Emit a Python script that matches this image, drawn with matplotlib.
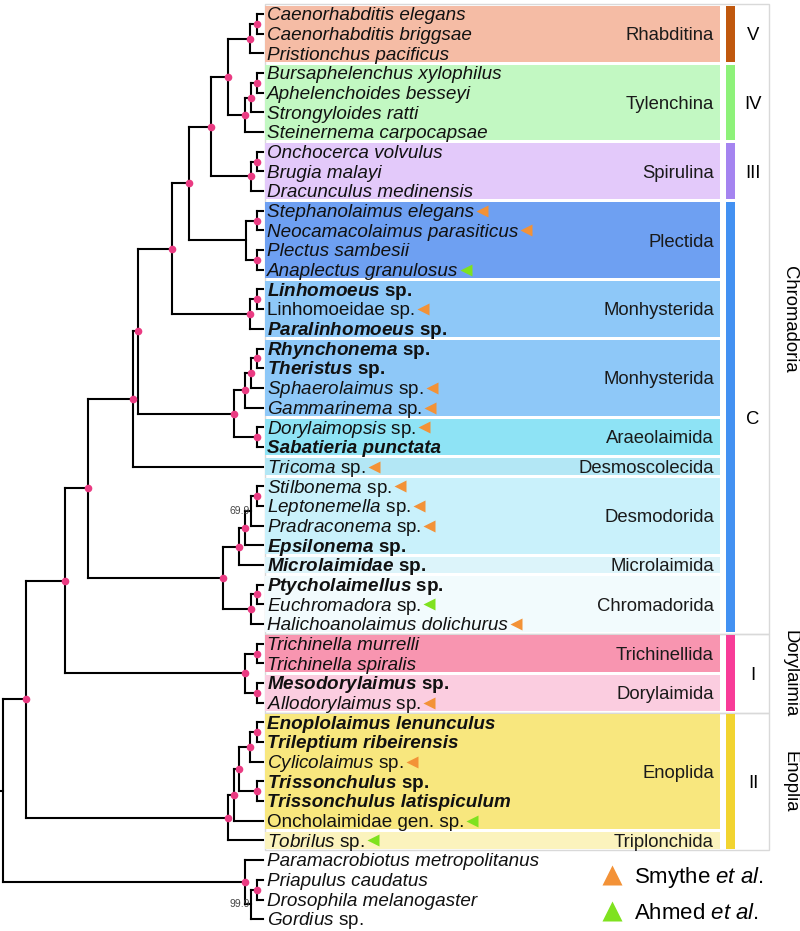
import re
import matplotlib
matplotlib.use("Agg")
import matplotlib.pyplot as plt
from matplotlib.patches import Rectangle
from matplotlib.lines import Line2D

plt.rcParams['font.family'] = 'Liberation Sans'
plt.rcParams['mathtext.fontset'] = 'custom'
plt.rcParams['mathtext.rm'] = 'Liberation Sans'
plt.rcParams['mathtext.it'] = 'Liberation Sans:italic'
plt.rcParams['mathtext.bf'] = 'Liberation Sans:bold'
plt.rcParams['mathtext.bfit'] = 'Liberation Sans:italic:bold'

# topology + branch lengths in newick pieces, tips numbered in plotting order
# '*' = node with support dot, numbers = printed support value
rhabditina = "((0:6,1:6)*:7,2:13)*:22"
tylenchina = "(((3:6,4:6)*:6,5:12)*:6,6:18)*:17"
spirulina = "((7:6,8:6)*:6,9:12)*:40"
plectida = "((10:6,11:6)*:11,(12:6,13:6)*:11):57"
linhomoeids = "((14:6,15:6)*:7,16:13)*:78"
monhysterida = "(((17:6,18:6)*:6,19:12)*:6,20:18)*:11"
araeolaimida = "(21:6,22:6)*:23"
desmodorida = "(((24:6,25:6)*:6,26:12)69.9:6,27:18)*:6"
chromadorida = "((29:6,30:6)*:6,31:12)*:28"
dorylaimia = "((32:6,33:6)*:12,(34:6,35:6)*:12)*:180"
enoplia = "((((36:6,37:6)*:7,38:13)*:11,(39:6,40:6)*:18)*:5,41:29)*:6,42:35)*:202"
outgroup = "(43:18,((44:6,45:6)*:6,46:12)99.9:6)*:242"

clade_iii_v = "((" + rhabditina + "," + tylenchina + ")*:17," + spirulina + ")*:22"
upper = "(((" + clade_iii_v + "," + plectida + ")*:17," + linhomoeids + ")*:34"
mid = "(" + monhysterida + "," + araeolaimida + ")*:96"
chrom_a = "((" + upper + "," + mid + ")*:5,23:130)*:45"
chrom_b = "((" + desmodorida + ",28:24)*:16," + chromadorida + ")*:135"
chromadoria = "(" + chrom_a + "," + chrom_b + ")*:23"
newick = ("(((" + chromadoria + "," + dorylaimia + ")*:39,(" + enoplia + ")*:23,"
          + outgroup + "):3;")

tip_italic = [
    "Caenorhabditis elegans", "Caenorhabditis briggsae", "Pristionchus pacificus",
    "Bursaphelenchus xylophilus", "Aphelenchoides besseyi", "Strongyloides ratti",
    "Steinernema carpocapsae", "Onchocerca volvulus", "Brugia malayi",
    "Dracunculus medinensis", "Stephanolaimus elegans", "Neocamacolaimus parasiticus",
    "Plectus sambesii", "Anaplectus granulosus", "Linhomoeus", "",
    "Paralinhomoeus", "Rhynchonema", "Theristus", "Sphaerolaimus", "Gammarinema",
    "Dorylaimopsis", "Sabatieria punctata", "Tricoma", "Stilbonema", "Leptonemella",
    "Pradraconema", "Epsilonema", "Microlaimidae", "Ptycholaimellus", "Euchromadora",
    "Halichoanolaimus dolichurus", "Trichinella murrelli", "Trichinella spiralis",
    "Mesodorylaimus", "Allodorylaimus", "Enoplolaimus lenunculus",
    "Trileptium ribeirensis", "Cylicolaimus", "Trissonchulus",
    "Trissonchulus latispiculum", "", "Tobrilus", "Paramacrobiotus metropolitanus",
    "Priapulus caudatus", "Drosophila melanogaster", "Gordius",
]
tip_plain = [
    "", "", "", "", "", "", "", "", "", "", "", "", "", "", "sp.", "Linhomoeidae sp.",
    "sp.", "sp.", "sp.", "sp.", "sp.", "sp.", "", "sp.", "sp.", "sp.", "sp.", "sp.",
    "sp.", "sp.", "sp.", "", "", "", "sp.", "sp.", "", "", "sp.", "sp.", "",
    "Oncholaimidae gen. sp.", "sp.", "", "", "", "sp.",
]
bold_tips = [14, 16, 17, 18, 22, 27, 28, 29, 34, 36, 37, 39, 40]
smythe_tips = [10, 11, 15, 19, 20, 21, 23, 24, 25, 26, 31, 35, 38]
ahmed_tips = [13, 30, 41, 42]

group_names = ["Rhabditina", "Tylenchina", "Spirulina", "Plectida", "Monhysterida",
               "Monhysterida", "Araeolaimida", "Desmoscolecida", "Desmodorida",
               "Microlaimida", "Chromadorida", "Trichinellida", "Dorylaimida",
               "Enoplida", "Triplonchida"]
group_first = [0, 3, 7, 10, 14, 17, 21, 23, 24, 28, 29, 32, 34, 36, 42]
group_last = [2, 6, 9, 13, 16, 20, 22, 23, 27, 28, 31, 33, 35, 41, 42]
group_colors = ["#f5bca5", "#c2f8c2", "#e3c9fa", "#6ea0f2", "#8ec8f8", "#8ec8f8",
                "#8ee3f5", "#b3e7f5", "#c9f1fb", "#dcf4fa", "#f2fbfd", "#f895b0",
                "#fbcde0", "#f8e77e", "#fbf3bd"]

clade_names = ["V", "IV", "III", "C", "I", "II"]
clade_first = [0, 3, 7, 10, 32, 36]
clade_last = [2, 6, 9, 31, 35, 42]
clade_colors = ["#c0580e", "#8ef27a", "#a584f0", "#4391f2", "#f83c98", "#f2d430"]

class_names = ["Chromadoria", "Dorylaimia", "Enoplia"]
class_first = [0, 32, 36]
class_last = [31, 35, 42]

smythe_color = "#f39237"
ahmed_color = "#7fe21f"
dot_color = "#ea3b82"


def parse(s):
    pos = 0

    def node():
        nonlocal pos
        kids = []
        if s[pos] == '(':
            pos += 1
            while True:
                kids.append(node())
                if s[pos] == ',':
                    pos += 1
                else:
                    break
            pos += 1
        m = re.match(r'([^:,();]*)(?::([0-9.]+))?', s[pos:])
        pos += m.end()
        return {'label': m.group(1), 'length': float(m.group(2) or 0), 'children': kids}

    return node()


def layout(n, depth):
    n['x'] = depth + n['length']
    if n['children']:
        for c in n['children']:
            layout(c, n['x'])
        n['y'] = (n['children'][0]['y'] + n['children'][-1]['y']) / 2
    else:
        n['y'] = int(n['label'])


tree = parse(newick)
layout(tree, 0)

fig = plt.figure(figsize=(8, 9.31), dpi=100)
ax = fig.add_axes([0, 0, 1, 1])
ax.set_xlim(0, 800)
ax.set_ylim(46.6, -0.71)
ax.axis('off')

lw = 1.5


def draw(n, px):
    ax.plot([px, n['x']], [n['y'], n['y']], color='black', lw=lw,
            solid_capstyle='projecting', zorder=3)
    if not n['children']:
        return
    ax.plot([n['x'], n['x']], [n['children'][0]['y'], n['children'][-1]['y']],
            color='black', lw=lw, solid_capstyle='projecting', zorder=3)
    if n['label'] == '*':
        ax.plot(n['x'], n['y'], 'o', ms=5.5, color=dot_color, mec='none', zorder=4)
    elif n['label']:
        ax.text(n['x'] - 1, n['y'], n['label'], ha='right', va='center',
                fontsize=7.5, color='#444444', zorder=4)
    for c in n['children']:
        draw(c, n['x'])


draw(tree, 0)

box_left, box_right = 265, 720
gap = 0.075
base = 0.32  # baseline offset (rows) so caps sit centred on the branch

# class frames
for name, r0, r1 in zip(class_names, class_first, class_last):
    ax.add_patch(Rectangle((box_left, r0 - 0.5), 769 - box_left, r1 - r0 + 1,
                           fill=False, ec='#d9d9d9', lw=1, zorder=1))
    ax.text(790, (r0 + r1) / 2, name, rotation=270, ha='center', va='center',
            fontsize=13.3)

# order boxes
for name, r0, r1, col in zip(group_names, group_first, group_last, group_colors):
    ax.add_patch(Rectangle((box_left, r0 - 0.5 + gap), box_right - box_left,
                           r1 - r0 + 1 - 2 * gap, fc=col, ec='none', zorder=2))
    ax.text(714, (r0 + r1) / 2 + base, name, ha='right', va='baseline',
            fontsize=13.3, color='#1a1a1a', zorder=3)

# clade bars
for name, r0, r1, col in zip(clade_names, clade_first, clade_last, clade_colors):
    ax.add_patch(Rectangle((726, r0 - 0.5 + gap), 9, r1 - r0 + 1 - 2 * gap,
                           fc=col, ec='none', zorder=2))
    ax.text(753, (r0 + r1) / 2 + base, name, ha='center', va='baseline',
            fontsize=13.3)

# tip labels
tip_texts = []
for i, (it, pl) in enumerate(zip(tip_italic, tip_plain)):
    bold = i in bold_tips
    if it and pl:
        cmd = r'\mathbfit' if bold else r'\mathit'
        s = '$' + cmd + '{' + it.replace(' ', r'\ ') + '}$ ' + pl
        style = 'normal'
    elif it:
        s, style = it, 'italic'
    else:
        s, style = pl, 'normal'
    t = ax.text(267, i + base, s, ha='left', va='baseline', fontsize=13.6,
                style=style, fontweight='bold' if bold else 'normal',
                color='#111111', zorder=5)
    tip_texts.append(t)

fig.canvas.draw()
renderer = fig.canvas.get_renderer()
inv = ax.transData.inverted()
for idx_list, col in [(smythe_tips, smythe_color), (ahmed_tips, ahmed_color)]:
    for i in idx_list:
        bb = tip_texts[i].get_window_extent(renderer)
        xe = inv.transform((bb.x1, bb.y0))[0]
        ax.plot(xe + 8, i, marker='<', ms=8, color=col, mec='none', ls='', zorder=5)

handles = [Line2D([], [], marker='^', ls='', ms=15, color=smythe_color, mec='none'),
           Line2D([], [], marker='^', ls='', ms=15, color=ahmed_color, mec='none')]
ax.legend(handles, [r'Smythe $\mathit{et\ al.}$', r'Ahmed $\mathit{et\ al.}$'],
          loc='center left', bbox_to_anchor=(601 / 800, 1 - 894.5 / 931),
          bbox_transform=fig.transFigure, frameon=False, fontsize=16,
          handlelength=1.0, handletextpad=0.5, labelspacing=0.6, borderpad=0,
          borderaxespad=0)

fig.savefig('out.png', dpi=100)
